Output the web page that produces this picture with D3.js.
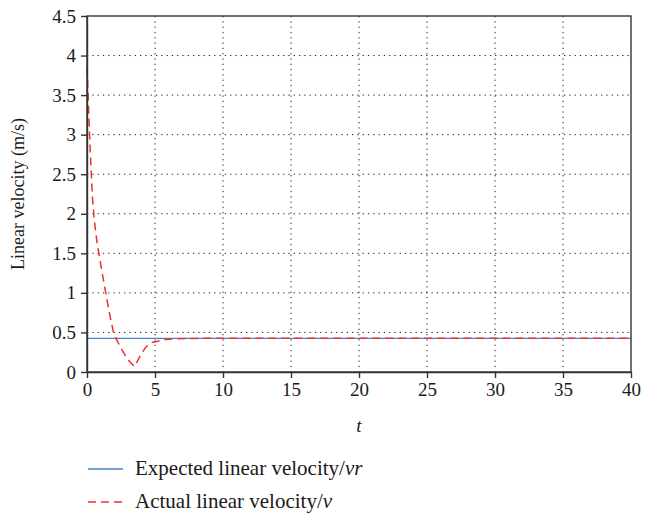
<!DOCTYPE html>
<html>
<head>
<meta charset="utf-8">
<script src="https://cdn.jsdelivr.net/npm/d3@7"></script>
<style>
  body { margin: 0; background: #fff; }
  text { font-family: "Liberation Serif", "Times New Roman", serif; fill: #1a1a1a; }
</style>
</head>
<body>
<div id="chart"></div>
<script>
// chart data
var xTicks = [0, 5, 10, 15, 20, 25, 30, 35, 40];
var yTicks = [0, 0.5, 1, 1.5, 2, 2.5, 3, 3.5, 4, 4.5];

var expectedT = [0, 40];
var expectedV = [0.424, 0.424];

var actualT = [0, 0.12, 0.25, 0.4, 0.55, 0.75, 0.95, 1.15, 1.4, 1.7, 1.95, 2.2, 2.6, 3.0, 3.3, 3.5, 3.9, 4.3, 4.7, 5.2, 5.8, 6.5, 8, 10, 20, 30, 40];
var actualV = [3.86, 3.3, 2.75, 2.2, 1.9, 1.62, 1.42, 1.22, 0.98, 0.7, 0.5, 0.4, 0.27, 0.16, 0.1, 0.07, 0.2, 0.31, 0.37, 0.39, 0.41, 0.42, 0.425, 0.426, 0.426, 0.426, 0.426];

var legendLabels = [
  { text: "Expected linear velocity/", sym: "vr" },
  { text: "Actual linear velocity/", sym: "v" }
];

// SVG area
var svgWidth = 666;
var svgHeight = 514;
var margin = { top: 16, right: 35, bottom: 142, left: 87 };
var chartWidth = svgWidth - margin.left - margin.right;
var chartHeight = svgHeight - margin.top - margin.bottom;

var svg = d3.select("#chart")
  .append("svg")
  .attr("width", svgWidth)
  .attr("height", svgHeight);

var chartGroup = svg.append("g")
  .attr("transform", `translate(${margin.left}, ${margin.top})`);

var xScale = d3.scaleLinear().domain([0, 40]).range([0, chartWidth]);
var yScale = d3.scaleLinear().domain([0, 4.5]).range([chartHeight, 0]);

// dotted grid
chartGroup.append("g")
  .selectAll("line")
  .data(xTicks.slice(1, -1))
  .enter()
  .append("line")
  .attr("x1", d => xScale(d)).attr("x2", d => xScale(d))
  .attr("y1", 0).attr("y2", chartHeight)
  .attr("stroke", "#222")
  .attr("stroke-width", 1)
  .attr("stroke-dasharray", "1.3,4");

chartGroup.append("g")
  .selectAll("line")
  .data(yTicks.slice(1, -1))
  .enter()
  .append("line")
  .attr("x1", 0).attr("x2", chartWidth)
  .attr("y1", d => yScale(d)).attr("y2", d => yScale(d))
  .attr("stroke", "#222")
  .attr("stroke-width", 1)
  .attr("stroke-dasharray", "1.3,4");

// lines
var line = d3.line()
  .x(d => xScale(d[0]))
  .y(d => yScale(d[1]));

chartGroup.append("path")
  .datum(d3.zip(expectedT, expectedV))
  .attr("d", line)
  .attr("fill", "none")
  .attr("stroke", "#4a84c6")
  .attr("stroke-width", 1.3);

chartGroup.append("path")
  .datum(d3.zip(actualT, actualV))
  .attr("d", line)
  .attr("fill", "none")
  .attr("stroke", "#e8322c")
  .attr("stroke-width", 1.5)
  .attr("stroke-dasharray", "8,5");

// box
chartGroup.append("rect")
  .attr("width", chartWidth)
  .attr("height", chartHeight)
  .attr("fill", "none")
  .attr("stroke", "#333")
  .attr("stroke-width", 1.4);

// axes
var xAxis = d3.axisBottom(xScale)
  .tickValues(xTicks)
  .tickFormat(d3.format("d"))
  .tickSize(6)
  .tickSizeOuter(0)
  .tickPadding(5);

var yAxis = d3.axisLeft(yScale)
  .tickValues(yTicks)
  .tickFormat(d => d)
  .tickSize(6)
  .tickSizeOuter(0)
  .tickPadding(5);

var xAxisG = chartGroup.append("g")
  .attr("transform", `translate(0, ${chartHeight})`)
  .call(xAxis);

var yAxisG = chartGroup.append("g").call(yAxis);

[xAxisG, yAxisG].forEach(function(g) {
  g.attr("font-family", null);
  g.select(".domain").attr("stroke", "#333").attr("stroke-width", 1.4);
  g.selectAll(".tick line").attr("stroke", "#333").attr("stroke-width", 1.4);
  g.selectAll(".tick text")
    .attr("fill", "#1a1a1a")
    .style("font-family", "'Liberation Serif', serif")
    .style("font-size", "19px");
});

// axis titles
svg.append("text")
  .attr("x", margin.left + chartWidth / 2)
  .attr("y", 432)
  .attr("text-anchor", "middle")
  .style("font-size", "19px")
  .style("font-style", "italic")
  .text("t");

svg.append("text")
  .attr("transform", `translate(24, ${margin.top + chartHeight / 2}) rotate(-90)`)
  .attr("text-anchor", "middle")
  .style("font-size", "18px")
  .text("Linear velocity (m/s)");

// legend
var legend = svg.append("g")
  .attr("transform", "translate(88, 469)");

var rows = legend.selectAll("g")
  .data(legendLabels)
  .enter()
  .append("g")
  .attr("transform", (d, i) => `translate(0, ${i * 33})`);

rows.append("line")
  .attr("x1", 0).attr("x2", 35)
  .attr("y1", 0).attr("y2", 0)
  .attr("stroke", (d, i) => i === 0 ? "#4a84c6" : "#e8322c")
  .attr("stroke-width", (d, i) => i === 0 ? 1.3 : 1.5)
  .attr("stroke-dasharray", (d, i) => i === 0 ? null : "8,5");

var labels = rows.append("text")
  .attr("x", 47)
  .attr("y", 6)
  .style("font-size", "21px");

labels.append("tspan").text(d => d.text);
labels.append("tspan").style("font-style", "italic").text(d => d.sym);
</script>
</body>
</html>
